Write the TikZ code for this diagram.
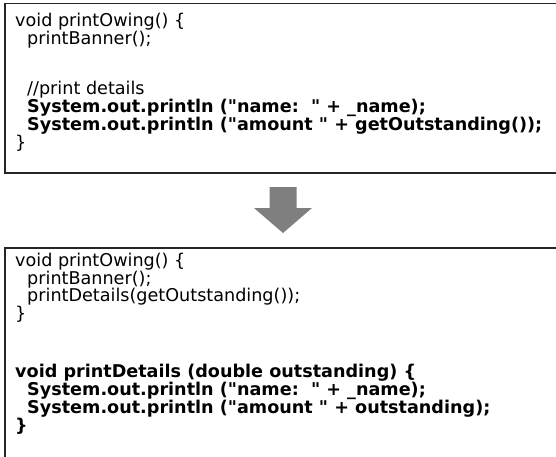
\documentclass[tikz,border=0pt]{standalone}
\usepackage{fontspec}
\setmainfont{DejaVu Sans}[Ligatures=TeXOff]
\usepackage{tikz}
\usetikzlibrary{positioning}
\definecolor{framegray}{HTML}{262626}
\definecolor{turngray}{HTML}{7F7F7F}

\begin{document}
\begin{tikzpicture}[x=1pt,y=-1pt,font=\fontsize{17.6}{17.5}\selectfont]
\tikzset{frame/.style={draw=framegray,line width=1.5pt,minimum width=600pt,anchor=north west,inner sep=0pt}, code/.style={align=left,inner sep=0pt,anchor=north west}}
\useasboundingbox (0,0) rectangle (556,457);
% the two listings, before and after the extraction
\node[frame,minimum height=169pt] (before) at (4,3) {};
\node[frame,minimum height=300pt] (after) at (4,247) {};
\node[code] (oldcode) at ([shift={(11,10)}]before.north west) {void printOwing() \{\\
\hspace*{12pt}printBanner();\\[33pt]
\hspace*{12pt}//print details\\
\hspace*{12pt}\textbf{System.out.println ("name:\ \ " + \_name);}\\
\hspace*{12pt}\textbf{System.out.println ("amount " + getOutstanding());}\\
\}};
\node[code] (newcode) at ([shift={(11,6)}]after.north west) {void printOwing() \{\\
\hspace*{12pt}printBanner();\\
\hspace*{12pt}printDetails(getOutstanding());\\
\}\\[41pt]
\textbf{void printDetails (double outstanding) \{}\\
\hspace*{12pt}\textbf{System.out.println ("name:\ \ " + \_name);}\\
\hspace*{12pt}\textbf{System.out.println ("amount " + outstanding);}\\
\textbf{\}}};
% block arrow between them
\coordinate (turn) at (283,187);
\fill[turngray] (turn) ++(-13.5,0) -- ++(27,0) -- ++(0,21) -- ++(15.5,0) -- ++(-29,25) -- ++(-29,-25) -- ++(15.5,0) -- cycle;
\end{tikzpicture}
\end{document}
